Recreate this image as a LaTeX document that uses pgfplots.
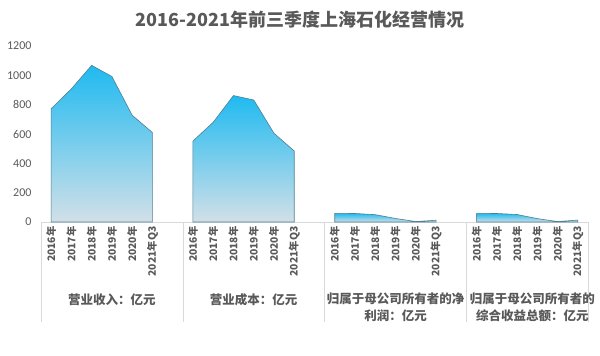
\documentclass[border=0pt]{standalone}
\usepackage{fontspec}
\usepackage{pgfplots}
\pgfplotsset{compat=1.18}
\setmainfont{Carlito}
\newfontfamily\cjk{Noto Sans CJK SC}
\definecolor{txt}{HTML}{595959}
\definecolor{topc}{HTML}{1FBAF0}
\definecolor{botc}{HTML}{D2E0E8}
\definecolor{edge}{HTML}{4F7F92}
\definecolor{axl}{HTML}{D9D9D9}
\begin{document}
\begin{tikzpicture}[x=1pt,y=1pt]
\path[use as bounding box] (0,0) rectangle (600,-356);
\node[font=\cjk\bfseries\fontsize{18}{20}\selectfont, text=txt] at (300,-20) {2016-2021年前三季度上海石化经营情况};
\begin{axis}[
  at={(41pt,-222pt)}, anchor=south west,
  scale only axis, width=547pt, height=176pt,
  xmin=-0.5, xmax=26.5, ymin=0, ymax=1200,
  clip=false,
  axis x line=bottom, axis y line=left,
  x axis line style={draw=axl, -},
  y axis line style={draw=none},
  major tick length=0pt,
  ytick={0,200,...,1200},
  yticklabel style={font=\fontsize{12}{13}\selectfont, text=txt, xshift=-6pt},
  /pgf/number format/assume math mode=true,
  /pgf/number format/1000 sep={},
  xtick={0,1,2,3,4,5,7,8,9,10,11,12,14,15,16,17,18,19,21,22,23,24,25,26},
  xticklabels={2016年,2017年,2018年,2019年,2020年,2021年Q3,2016年,2017年,2018年,2019年,2020年,2021年Q3,2016年,2017年,2018年,2019年,2020年,2021年Q3,2016年,2017年,2018年,2019年,2020年,2021年Q3},
  xticklabel style={font=\cjk\bfseries\fontsize{10.3}{11}\selectfont, text=txt, rotate=90, anchor=east, xshift=-1pt},
]
\addplot[draw=edge, line width=0.6pt, top color=topc, bottom color=botc] coordinates {(0,772) (1,908) (2,1068) (3,992) (4,728) (5,610)} \closedcycle;
\addplot[draw=edge, line width=0.6pt, top color=topc, bottom color=botc] coordinates {(7,552) (8,680) (9,862) (10,832) (11,605) (12,484)} \closedcycle;
\addplot[draw=edge, line width=0.6pt, top color=topc, bottom color=botc] coordinates {(14,59) (15,58) (16,50) (17,24) (18,3) (19,12)} \closedcycle;
\addplot[draw=edge, line width=0.6pt, top color=topc, bottom color=botc] coordinates {(21,59) (22,58) (23,51) (24,23) (25,3) (26,13)} \closedcycle;
\foreach \xx in {-0.5,6.5,13.5,20.5,26.5} {
  \edef\temp{\noexpand\draw[axl, line width=0.6pt] (axis cs:\xx,0) -- ([yshift=-100pt]axis cs:\xx,0);}
  \temp
}
\node[font=\cjk\bfseries\fontsize{12.5}{14}\selectfont, text=txt] at (axis cs:3,0) [yshift=-78pt] {营业收入：亿元};
\node[font=\cjk\bfseries\fontsize{12.5}{14}\selectfont, text=txt] at (axis cs:10,0) [yshift=-78pt] {营业成本：亿元};
\node[font=\cjk\bfseries\fontsize{12.5}{17}\selectfont, text=txt, align=center] at (axis cs:17,0) [yshift=-85pt] {归属于母公司所有者的净\\利润：亿元};
\node[font=\cjk\bfseries\fontsize{12.5}{17}\selectfont, text=txt, align=center] at (axis cs:23.75,0) [yshift=-85pt] {归属于母公司所有者的\\综合收益总额：亿元};
\end{axis}
\end{tikzpicture}
\end{document}
